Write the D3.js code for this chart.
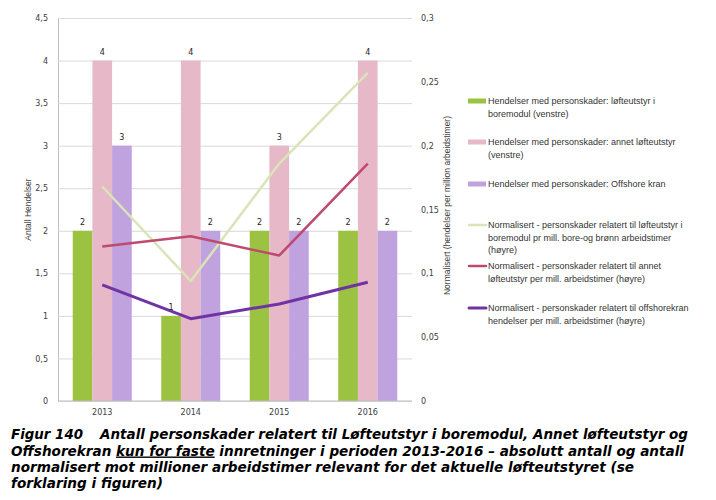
<!DOCTYPE html>
<html><head><meta charset="utf-8">
<script src="https://cdn.jsdelivr.net/npm/d3@7"></script>
<style>
body{margin:0;background:#fff;}
svg{display:block;}
</style></head>
<body><svg id="c" width="716" height="500"></svg>
<script>
const years = ["2013","2014","2015","2016"];
const barSeries = ["boremodul","annet","kran"];
const barBoremodul = [2,1,2,2];
const barAnnet = [4,4,3,4];
const barKran = [3,2,2,2];
const lineBoremodul = [0.168,0.094,0.186,0.257];
const lineAnnet = [0.121,0.129,0.114,0.186];
const lineKran = [0.091,0.0645,0.076,0.093];
const leftTicks = [0,0.5,1,1.5,2,2.5,3,3.5,4,4.5];
const rightTicks = [0,0.05,0.1,0.15,0.2,0.25,0.3];
const barColors = ["#9bc341","#e6b8c8","#c0a2de"];
const lineColors = ["#d9e4b8","#bf4a70","#6f33a6"];
const lineWidths = [2.5,2.5,3];
const legendItems = [
  {type:"bar", lines:["Hendelser med personskader: løfteutstyr i","boremodul (venstre)"]},
  {type:"bar", lines:["Hendelser med personskader: annet løfteutstyr","(venstre)"]},
  {type:"bar", lines:["Hendelser med personskader: Offshore kran"]},
  {type:"line", lines:["Normalisert - personskader relatert til løfteutstyr i","boremodul pr mill. bore-og brønn arbeidstimer","(høyre)"]},
  {type:"line", lines:["Normalisert - personskader relatert til annet","løfteutstyr per mill. arbeidstimer (høyre)"]},
  {type:"line", lines:["Normalisert - personskader relatert til offshorekran","hendelser per mill. arbeidstimer (høyre)"]}
];
const legendY = [101,142,184,225,266,308];

const svg = d3.select("#c");
const L = 58, R = 412, T = 18, B = 401;
const fmt = d => String(d).replace(".", ",");

const x = d3.scaleBand().domain(years).range([L,R]).paddingInner(1/3).paddingOuter(1/6);
const xs = d3.scaleBand().domain(barSeries).range([0,x.bandwidth()]).padding(0);
const yL = d3.scaleLinear().domain([0,4.5]).range([B,T]);
const yR = d3.scaleLinear().domain([0,0.3]).range([B,T]);

// gridlines + left axis
const gL = svg.append("g").attr("transform",`translate(${L},0)`)
  .call(d3.axisLeft(yL).tickValues(leftTicks).tickFormat(fmt).tickSizeInner(-(R-L)).tickSizeOuter(0).tickPadding(10));
gL.select(".domain").attr("stroke","#bfbfbf");
gL.selectAll(".tick line").attr("stroke","#d9d9d9");
gL.selectAll(".tick text").attr("font-family","DejaVu Sans").attr("font-size","8px").attr("fill","#404040");

const gR = svg.append("g").attr("transform",`translate(${R},0)`)
  .call(d3.axisRight(yR).tickValues(rightTicks).tickFormat(fmt).tickSize(0).tickPadding(9));
gR.select(".domain").remove();
gR.selectAll(".tick text").attr("font-family","DejaVu Sans").attr("font-size","8px").attr("fill","#404040");

// bars
const barData = [barBoremodul, barAnnet, barKran];
barSeries.forEach((s,i)=>{
  const g = svg.append("g");
  g.selectAll("rect").data(barData[i]).join("rect")
    .attr("x",(d,j)=>x(years[j])+xs(s))
    .attr("y",d=>yL(d))
    .attr("width",xs.bandwidth())
    .attr("height",d=>B-yL(d))
    .attr("fill",barColors[i]);
});

// bottom axis
const gB = svg.append("g").attr("transform",`translate(0,${B})`)
  .call(d3.axisBottom(x).tickSize(0).tickPadding(8));
gB.select(".domain").attr("stroke","#bfbfbf").attr("d",`M${L},0H${R}`);
gB.selectAll(".tick text").attr("font-family","DejaVu Sans").attr("font-size","8px").attr("fill","#404040");

// lines
const lineData = [lineBoremodul, lineAnnet, lineKran];
lineData.forEach((arr,i)=>{
  svg.append("path").datum(arr)
    .attr("fill","none").attr("stroke",lineColors[i]).attr("stroke-width",lineWidths[i])
    .attr("stroke-linejoin","round")
    .attr("d", d3.line().x((d,j)=>x(years[j])+x.bandwidth()/2).y(d=>yR(d)));
});

// data labels
barSeries.forEach((s,i)=>{
  svg.append("g").selectAll("text").data(barData[i]).join("text")
    .attr("x",(d,j)=>x(years[j])+xs(s)+xs.bandwidth()/2)
    .attr("y",d=>yL(d)-6)
    .attr("text-anchor","middle")
    .attr("font-family","DejaVu Sans").attr("font-size","8px").attr("fill","#262626")
    .text(d=>d);
});

// axis titles
svg.append("text").attr("transform",`translate(31,${(T+B)/2}) rotate(-90)`)
  .attr("text-anchor","middle").attr("font-family","Liberation Sans").attr("font-size","8.5px").attr("fill","#404040")
  .text("Antall Hendelser");
svg.append("text").attr("transform",`translate(450,${(T+B)/2 - 4}) rotate(-90)`)
  .attr("text-anchor","middle").attr("font-family","Liberation Sans").attr("font-size","8.5px").attr("fill","#404040")
  .text("Normalisert (hendelser per million arbeidstimer)");

// legend
legendItems.forEach((it,i)=>{
  const y0 = legendY[i];
  if(it.type==="bar"){
    svg.append("rect").attr("x",468).attr("y",y0-2.5).attr("width",18).attr("height",5).attr("fill",barColors[i]);
  } else {
    const k = i-3;
    svg.append("line").attr("x1",469).attr("x2",486).attr("y1",y0).attr("y2",y0)
      .attr("stroke",lineColors[k]).attr("stroke-width",lineWidths[k]).attr("stroke-linecap","round");
  }
  const t = svg.append("text").attr("font-family","Liberation Sans").attr("font-size","9px").attr("fill","#333");
  it.lines.forEach((ln,j)=>{
    t.append("tspan").attr("x",488).attr("y",y0+3+j*12.6).text(ln);
  });
});

// caption
const cap = svg.append("g").attr("font-family","DejaVu Sans").attr("font-weight","bold").attr("font-style","italic").attr("font-size","14px").attr("fill","#000");
cap.append("text").attr("x",11).attr("y",439).attr("textLength",72).attr("lengthAdjust","spacingAndGlyphs").text("Figur 140");
cap.append("text").attr("x",100).attr("y",439).attr("textLength",588).attr("lengthAdjust","spacingAndGlyphs")
  .text("Antall personskader relatert til Løfteutstyr i boremodul, Annet løfteutstyr og");
const l2 = cap.append("text").attr("x",11).attr("y",455.5).attr("textLength",673).attr("lengthAdjust","spacingAndGlyphs");
l2.append("tspan").text("Offshorekran ");
l2.append("tspan").attr("text-decoration","underline").text("kun for faste");
l2.append("tspan").text(" innretninger i perioden 2013-2016 – absolutt antall og antall");
cap.append("text").attr("x",11).attr("y",471.7).attr("textLength",623).attr("lengthAdjust","spacingAndGlyphs")
  .text("normalisert mot millioner arbeidstimer relevant for det aktuelle løfteutstyret (se");
cap.append("text").attr("x",11).attr("y",488).attr("textLength",152).attr("lengthAdjust","spacingAndGlyphs")
  .text("forklaring i figuren)");
</script></body></html>
